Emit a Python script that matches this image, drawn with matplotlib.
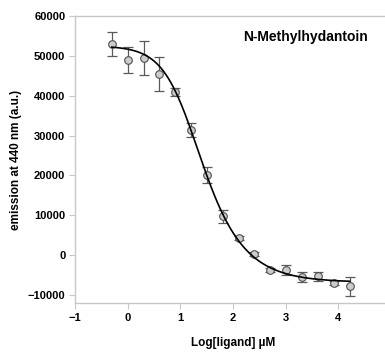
import numpy as np
import matplotlib.pyplot as plt

# measured points: log concentration, emission, error
log_conc = [-0.301, 0.0, 0.301, 0.602, 0.903, 1.204, 1.505, 1.806,
            2.107, 2.408, 2.709, 3.010, 3.311, 3.612, 3.913, 4.214]
emission = [52950, 48950, 49400, 45500, 40900, 31400, 20100, 9770,
            4260, 250, -3600, -3700, -5450, -5300, -7000, -7800]
err = [3000, 3300, 4300, 4300, 1000, 1700, 1900, 1600,
       500, 500, 500, 1200, 1200, 1100, 500, 2400]

# fitted 5-parameter logistic
fit_top = 52500
fit_bottom = -6800
fit_logec = 1.138
fit_hill = 1.4
fit_asym = 0.55

plt.rcParams['font.family'] = ['Liberation Sans', 'DejaVu Sans']
plt.rcParams['font.weight'] = 'bold'

fig = plt.figure(figsize=(3.85, 3.53), dpi=100)
ax = fig.add_axes([75 / 385, 1 - 303 / 353, 316 / 385, 287 / 353])

ax.errorbar(log_conc, emission, yerr=err, fmt='none', ecolor='#5a5a5a',
            elinewidth=0.9, capsize=3.5, capthick=0.9, zorder=2)
ax.plot(log_conc, emission, 'o', markersize=5.5, markerfacecolor='#cccccc',
        markeredgecolor='#505050', markeredgewidth=0.8, zorder=3)

xs = np.linspace(log_conc[0], log_conc[-1], 300)
ys = fit_bottom + (fit_top - fit_bottom) / (1 + 10 ** ((xs - fit_logec) * fit_hill)) ** fit_asym
ax.plot(xs, ys, color='black', linewidth=1.2, zorder=4)

ax.set_xlim(-1, 5)
ax.set_ylim(-12000, 60000)
ax.set_xticks([-1, 0, 1, 2, 3, 4])
ax.set_yticks([-10000, 0, 10000, 20000, 30000, 40000, 50000, 60000])
ax.tick_params(direction='out', length=4, width=0.8, color='#c8c8c8',
               labelsize=8, pad=3)
for lab in ax.get_xticklabels() + ax.get_yticklabels():
    lab.set_fontweight('bold')

for side in ['left', 'bottom', 'top']:
    ax.spines[side].set_color('#c8c8c8')
    ax.spines[side].set_linewidth(1.0)
ax.spines['right'].set_visible(False)

ax.set_xlabel('Log[ligand] µM', fontsize=8.5, fontweight='bold', labelpad=10)
ax.set_ylabel('emission at 440 nm (a.u.)', fontsize=8.5, fontweight='bold', labelpad=4)
ax.text(305 / 385, 1 - 37 / 353, 'N-Methylhydantoin', transform=fig.transFigure,
        fontsize=10, fontweight='bold', ha='center', va='center')

fig.savefig('out.png', dpi=100)
